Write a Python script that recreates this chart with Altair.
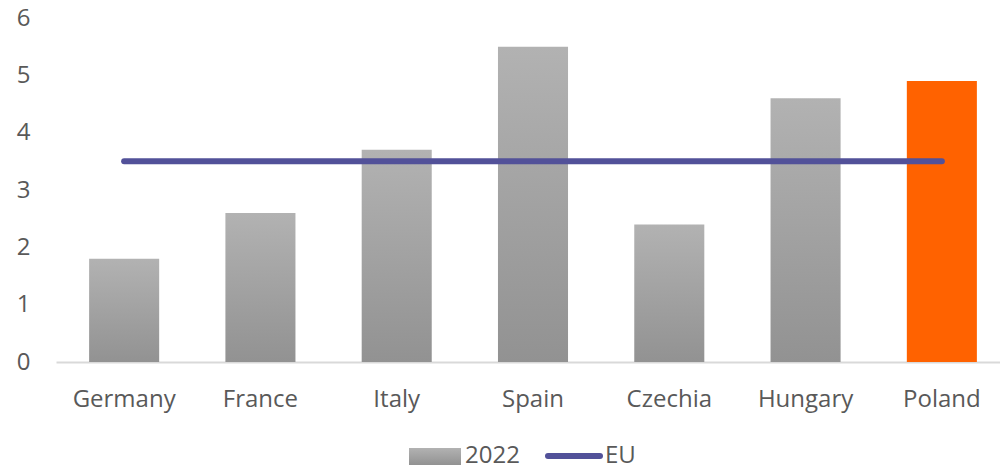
import altair as alt
import pandas as pd

countries = ["Germany", "France", "Italy", "Spain", "Czechia", "Hungary", "Poland"]
values_2022 = [1.8, 2.6, 3.7, 5.5, 2.4, 4.6, 4.9]
eu_values = [3.5, 3.5, 3.5, 3.5, 3.5, 3.5, 3.5]
highlight = ["Poland"]

df = pd.DataFrame({"country": countries, "v2022": values_2022, "eu": eu_values})

FONT = "Open Sans"
TXT = "#595959"
FS = 24
W, H = 943, 344

x_scale = alt.Scale(range=[-1, 953], paddingInner=0.486, paddingOuter=0.243)
y_scale = alt.Scale(domain=[0, 6], nice=False)

x_axis = alt.Axis(title=None, labelAngle=0, labelFontSize=FS, labelColor=TXT,
                  labelFont=FONT, ticks=False, tickSize=0, labelPadding=25,
                  domainColor="#d9d9d9", domainWidth=2, grid=False)
y_axis = alt.Axis(title=None, values=[0, 1, 2, 3, 4, 5, 6], format="d",
                  labelFontSize=FS, labelColor=TXT, labelFont=FONT, ticks=False,
                  tickSize=0, labelPadding=27, domain=False, grid=False)

x_enc = alt.X("country:N", sort=countries, scale=x_scale, axis=x_axis)
y_enc = alt.Y("v2022:Q", scale=y_scale, axis=y_axis)

grey = alt.Gradient(gradient="linear",
                    stops=[alt.GradientStop(color="#b2b2b2", offset=0),
                           alt.GradientStop(color="#929292", offset=1)],
                    x1=0, x2=0, y1=0, y2=1)

base = alt.Chart(df)
bars_grey = base.mark_bar(color=grey).encode(x=x_enc, y=y_enc).transform_filter(
    ~alt.FieldOneOfPredicate(field="country", oneOf=highlight))
bars_hl = base.mark_bar(color="#FF6200").encode(x=x_enc, y=y_enc).transform_filter(
    alt.FieldOneOfPredicate(field="country", oneOf=highlight))
line = base.mark_line(color="#525199", strokeWidth=6, strokeCap="round").encode(
    x=x_enc, y=alt.Y("eu:Q", scale=y_scale, axis=y_axis))

# legend
leg = pd.DataFrame({"k": [0]})
lg = alt.Chart(leg)
leg_rect = lg.mark_rect(color=grey).encode(
    x=alt.value(352), x2=alt.value(404), y=alt.value(430), y2=alt.value(447))
leg_t1 = lg.mark_text(text="2022", align="left", baseline="middle", fontSize=FS,
                      font=FONT, color=TXT).encode(x=alt.value(408), y=alt.value(438))
leg_line = lg.mark_rule(color="#525199", strokeWidth=6, strokeCap="round").encode(
    x=alt.value(491), x2=alt.value(543), y=alt.value(438))
leg_t2 = lg.mark_text(text="EU", align="left", baseline="middle", fontSize=FS,
                      font=FONT, color=TXT).encode(x=alt.value(548), y=alt.value(438))

chart = alt.layer(bars_grey, bars_hl, line, leg_rect, leg_t1, leg_line, leg_t2).properties(
    width=W, height=H,
    background="white",
    autosize=alt.AutoSizeParams(type="none"),
    padding={"left": 57, "top": 18, "right": 0, "bottom": 107},
).configure_view(strokeWidth=0, stroke="transparent").configure_axis(grid=False)

chart.save("out.html", embed_options={"renderer": "svg", "actions": False})
